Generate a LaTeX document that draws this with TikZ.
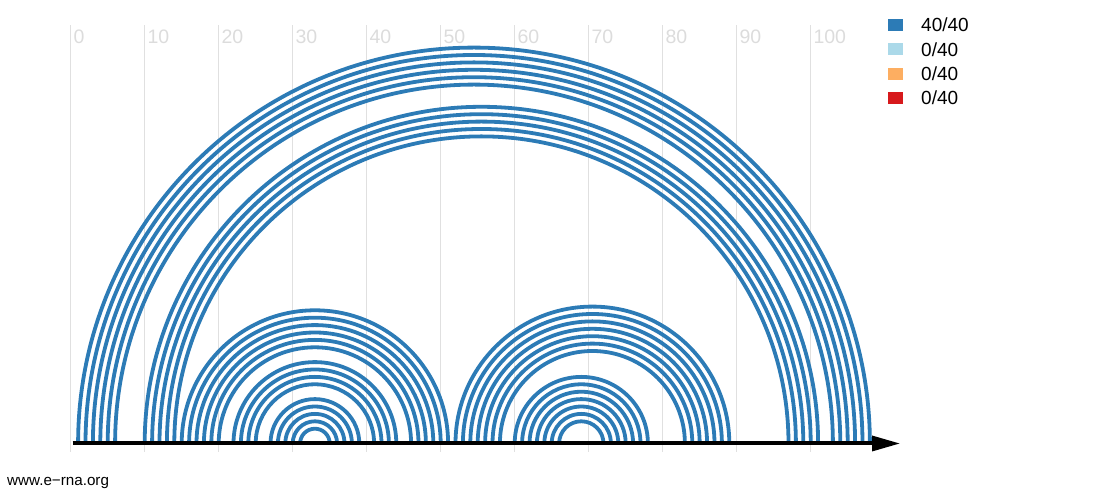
\documentclass[tikz,border=0pt]{standalone}
\usepackage{fontspec}
\setmainfont{Liberation Sans}
\definecolor{arcblue}{HTML}{2C7BB6}
\definecolor{lblue}{HTML}{ABD9E9}
\definecolor{lorange}{HTML}{FDAE61}
\definecolor{lred}{HTML}{D7191C}
\definecolor{gridgray}{HTML}{E0E0E0}
\definecolor{labgray}{HTML}{DCDCDC}
\begin{document}
\begin{tikzpicture}[x=1pt,y=1pt,
  arcline/.style={draw=arcblue,line width=3.8pt},
  gridline/.style={draw=gridgray,line width=1.3pt},
  ticklabel/.style={anchor=base west,inner sep=0pt,text=labgray,font=\fontsize{19.5}{21}\selectfont},
  legsq/.style={minimum width=15pt,minimum height=12pt,inner sep=0pt,draw=none},
  legtext/.style={anchor=base west,inner sep=0pt,font=\fontsize{19}{21}\selectfont}]
\useasboundingbox (0,0) rectangle (1096,492);
% grid lines and tick labels
\foreach \k in {0,...,10}{
  \pgfmathsetmacro\gx{70.7+74*\k}
  \pgfmathtruncatemacro\lab{10*\k}
  \coordinate (gt\k) at (\gx,467);
  \coordinate (gb\k) at (\gx,40);
  \draw[gridline] (gt\k) -- (gb\k);
  \node[ticklabel] (tl\k) at (\gx+2.6,448.7) {\lab};
}
% arcs (base pairs)
\foreach \i/\j in {1/108,2/107,3/106,4/105,5/104,6/103,
                   10/101,11/100,12/99,13/98,14/97,
                   15/51,16/50,17/49,18/48,19/47,20/46,
                   22/44,23/43,24/42,25/41,
                   27/39,28/38,29/37,30/36,31/35,
                   52/89,53/88,54/87,55/86,56/85,57/84,58/83,
                   60/78,61/77,62/76,63/75,64/74,65/73,66/72}{
  \pgfmathsetmacro\xa{70.7+7.4*\i}
  \pgfmathsetmacro\rr{3.7*(\j-\i)}
  \draw[arcline] (\xa,48.5) arc[start angle=180,end angle=0,radius=\rr];
}
% sequence axis
\coordinate (axstart) at (72.7,48.5);
\coordinate (axend) at (872,48.5);
\coordinate (tip) at (899.5,48.5);
\draw[line width=4pt] (axstart) -- (axend);
\fill ([yshift=8pt]axend) -- (tip) -- ([yshift=-8pt]axend) -- cycle;
% legend
\node[legsq,fill=arcblue] (s1) at (895.8,467) {};
\node[legsq,fill=lblue] (s2) at (895.8,442.6) {};
\node[legsq,fill=lorange] (s3) at (895.8,418.2) {};
\node[legsq,fill=lred] (s4) at (895.8,393.8) {};
\node[legtext] (t1) at (921,460.3) {40/40};
\node[legtext] (t2) at (921,435.9) {0/40};
\node[legtext] (t3) at (921,411.5) {0/40};
\node[legtext] (t4) at (921,387.1) {0/40};
% footer
\node[anchor=base west,inner sep=0pt,font=\fontsize{15.2}{17}\selectfont] (web) at (7,6) {www.e−rna.org};
\end{tikzpicture}
\end{document}
